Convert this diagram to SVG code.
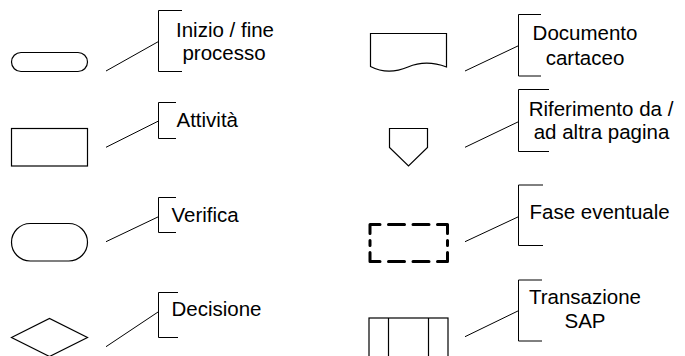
<svg xmlns="http://www.w3.org/2000/svg" width="685" height="356" viewBox="0 0 685 356">
  <style>
    .shape { fill: #ffffff; stroke: #000000; stroke-width: 1.2; }
    .bracket { fill: none; stroke: #000000; stroke-width: 1; }
    .label { font-family: "Liberation Sans", Arial, sans-serif; font-size: 20.5px; fill: #000000; }
    .mid { text-anchor: middle; }
    .dash { fill: none; stroke: #000000; stroke-width: 3; stroke-linecap: round; stroke-linejoin: round; }
  </style>
  <rect width="685" height="356" fill="#ffffff"/>

  <!-- legend symbols -->
  <g id="inizio-fine">
    <rect class="shape" x="11.5" y="52.5" width="76" height="19" rx="9.5" ry="9.5"/>
  </g>
  <g id="attivita">
    <rect class="shape" x="11.5" y="128.5" width="76" height="37.5"/>
  </g>
  <g id="verifica">
    <rect class="shape" x="11.5" y="223.5" width="76" height="37.5" rx="18.75" ry="18.75"/>
  </g>
  <g id="decisione">
    <polygon class="shape" points="11.5,337.5 49.5,318.5 87.5,337.5 49.5,356.5"/>
  </g>
  <g id="documento">
    <path class="shape" d="M370.5,66.5 V33.5 H446.5 V67 C433,62 420,62 408,67 C395,72.5 383,73 370.5,66.5 Z"/>
  </g>
  <g id="riferimento">
    <polygon class="shape" points="389.5,128.5 427.5,128.5 427.5,147.5 408.5,166 389.5,147.5"/>
  </g>
  <g id="fase-eventuale">
    <path class="dash" d="M370,233.5 V224.5 H380 M388.5,224.5 H404.5 M413,224.5 H429 M437.5,224.5 H447.5 V233.5 M447.5,240.5 V245.5 M447.5,252.5 V261.5 H437.5 M429,261.5 H413 M404.5,261.5 H388.5 M380,261.5 H370 V252.5 M370,240.5 V245.5"/>
  </g>
  <g id="transazione-sap">
    <rect class="shape" x="369" y="318" width="79" height="45"/>
    <line class="shape" x1="388.5" y1="318" x2="388.5" y2="360"/>
    <line class="shape" x1="428.5" y1="318" x2="428.5" y2="360"/>
  </g>

  <!-- callout connectors and brackets -->
  <g id="connectors" class="bracket">
    <line x1="106" y1="71" x2="158.5" y2="41.5"/>
    <line x1="106" y1="147.3" x2="158.5" y2="121"/>
    <line x1="106" y1="241.7" x2="158.5" y2="216.7"/>
    <line x1="106" y1="346.7" x2="158.5" y2="311.7"/>
    <line x1="465" y1="71" x2="518.5" y2="45.7"/>
    <line x1="465" y1="147.3" x2="518.5" y2="121.7"/>
    <line x1="465" y1="241.7" x2="518.5" y2="216.7"/>
    <line x1="465" y1="336.7" x2="518.5" y2="310.7"/>
    <path d="M182,10.5 H158.5 V71.5 H182"/>
    <path d="M176,102.5 H158.5 V138.5 H176"/>
    <path d="M176,197.5 H158.5 V232.5 H176"/>
    <path d="M178,292.5 H158.5 V337.5 H178"/>
    <path d="M541,14.5 H518.5 V76 H541"/>
    <path d="M549,89.5 H518.5 V151.5 H549"/>
    <path d="M543,185 H518.5 V245.5 H543"/>
    <path d="M542,280 H518.5 V341 H542"/>
  </g>

  <!-- labels -->
  <g id="labels" class="label">
    <text class="mid" x="225" y="37">Inizio / fine</text>
    <text class="mid" x="224" y="60">processo</text>
    <text x="176.5" y="127.3">Attività</text>
    <text x="171.5" y="222">Verifica</text>
    <text x="171.5" y="316">Decisione</text>
    <text class="mid" x="585" y="39.5">Documento</text>
    <text class="mid" x="585" y="65">cartaceo</text>
    <text class="mid" x="601" y="115.7">Riferimento da /</text>
    <text class="mid" x="601.5" y="138.5">ad altra pagina</text>
    <text x="529.5" y="219">Fase eventuale</text>
    <text class="mid" x="585" y="304.3">Transazione</text>
    <text class="mid" x="585" y="328">SAP</text>
  </g>
</svg>
